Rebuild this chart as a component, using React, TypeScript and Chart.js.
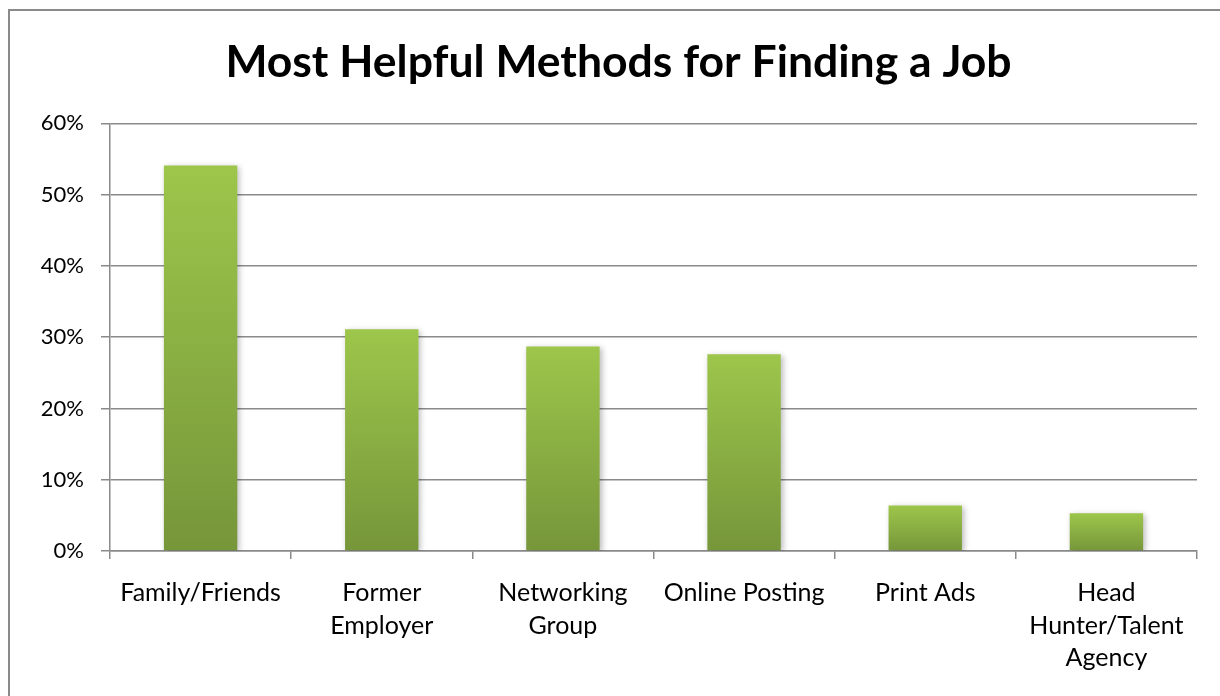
import React, { useEffect, useRef } from "react";
import { Chart, registerables } from "chart.js";

Chart.register(...registerables);

const TITLE = "Most Helpful Methods for Finding a Job";
const CATEGORIES: (string | string[])[] = [
  "Family/Friends",
  ["Former", "Employer"],
  ["Networking", "Group"],
  "Online Posting",
  "Print Ads",
  ["Head", "Hunter/Talent", "Agency"],
];
const VALUES = [54.1, 31.1, 28.7, 27.6, 6.4, 5.3];
const Y_MIN = 0;
const Y_MAX = 60;
const Y_STEP = 10;

const FONT = "Lato, 'Open Sans', sans-serif";
const GRID = "#8a8a8a";

export default function App() {
  const ref = useRef<HTMLCanvasElement | null>(null);

  useEffect(() => {
    document.body.style.margin = "0";
    const canvas = ref.current;
    if (!canvas) return;

    const shadowPlugin = {
      id: "barShadow",
      beforeDatasetsDraw(chart: any) {
        const ctx = chart.ctx;
        ctx.save();
        ctx.shadowColor = "rgba(0,0,0,0.28)";
        ctx.shadowBlur = 6;
        ctx.shadowOffsetX = 2;
        ctx.shadowOffsetY = 2;
      },
      afterDatasetsDraw(chart: any) {
        chart.ctx.restore();
      },
    };

    const chart = new Chart(canvas, {
      type: "bar",
      data: {
        labels: CATEGORIES,
        datasets: [
          {
            data: VALUES,
            backgroundColor: (c: any) => {
              const ch = c.chart;
              if (!ch.chartArea || c.dataIndex === undefined) return "#8bb042";
              const ys = ch.scales.y;
              const top = ys.getPixelForValue(VALUES[c.dataIndex]);
              const bot = ys.getPixelForValue(0);
              if (!isFinite(top) || !isFinite(bot) || top === bot) return "#8bb042";
              const g = ch.ctx.createLinearGradient(0, top, 0, bot);
              g.addColorStop(0, "#9dc64b");
              g.addColorStop(1, "#76963a");
              return g;
            },
            borderWidth: 0,
            categoryPercentage: 1,
            barPercentage: 0.405,
          },
        ],
      },
      options: {
        animation: false,
        responsive: false,
        maintainAspectRatio: false,
        layout: { padding: { left: 40, right: 23, top: 0, bottom: 0 } },
        plugins: {
          legend: { display: false },
          tooltip: { enabled: false },
          title: {
            display: true,
            text: TITLE,
            color: "#000",
            font: { family: FONT, size: 44.5, weight: "bold", lineHeight: 1.2 },
            padding: { top: 36, bottom: 34 },
          },
        },
        scales: {
          x: {
            grid: {
              display: true,
              drawOnChartArea: false,
              drawTicks: true,
              tickLength: 8,
              color: GRID,
              lineWidth: 1.5,
              offset: true,
            },
            border: { display: true, color: GRID, width: 1.5 },
            ticks: {
              color: "#000",
              font: { family: FONT, size: 25, lineHeight: 1.3 },
              padding: 18,
              maxRotation: 0,
              autoSkip: false,
            },
            afterFit: (s: any) => {
              s.height = 145;
            },
          },
          y: {
            min: Y_MIN,
            max: Y_MAX,
            grid: {
              color: GRID,
              lineWidth: 1.5,
              tickLength: 9,
            },
            border: { display: true, color: GRID, width: 1.5 },
            ticks: {
              stepSize: Y_STEP,
              color: "#000",
              font: { family: FONT, size: 22 },
              padding: 17,
              callback: (v: any) => v + "%",
            },
            afterFit: (s: any) => {
              s.width = 70;
            },
          },
        },
      },
      plugins: [shadowPlugin],
    });

    return () => chart.destroy();
  }, []);

  return (
    <div style={{ position: "fixed", left: 0, top: 0, width: 1220, height: 696, background: "#fff", overflow: "hidden" }}>
      <canvas ref={ref} width={1220} height={696} style={{ position: "absolute", left: 0, top: 0 }} />
      <div
        style={{
          position: "absolute",
          left: 8,
          top: 9,
          width: 1300,
          height: 800,
          borderTop: "2px solid #8a8a8a",
          borderLeft: "2px solid #8a8a8a",
          boxSizing: "border-box",
          pointerEvents: "none",
        }}
      />
    </div>
  );
}
